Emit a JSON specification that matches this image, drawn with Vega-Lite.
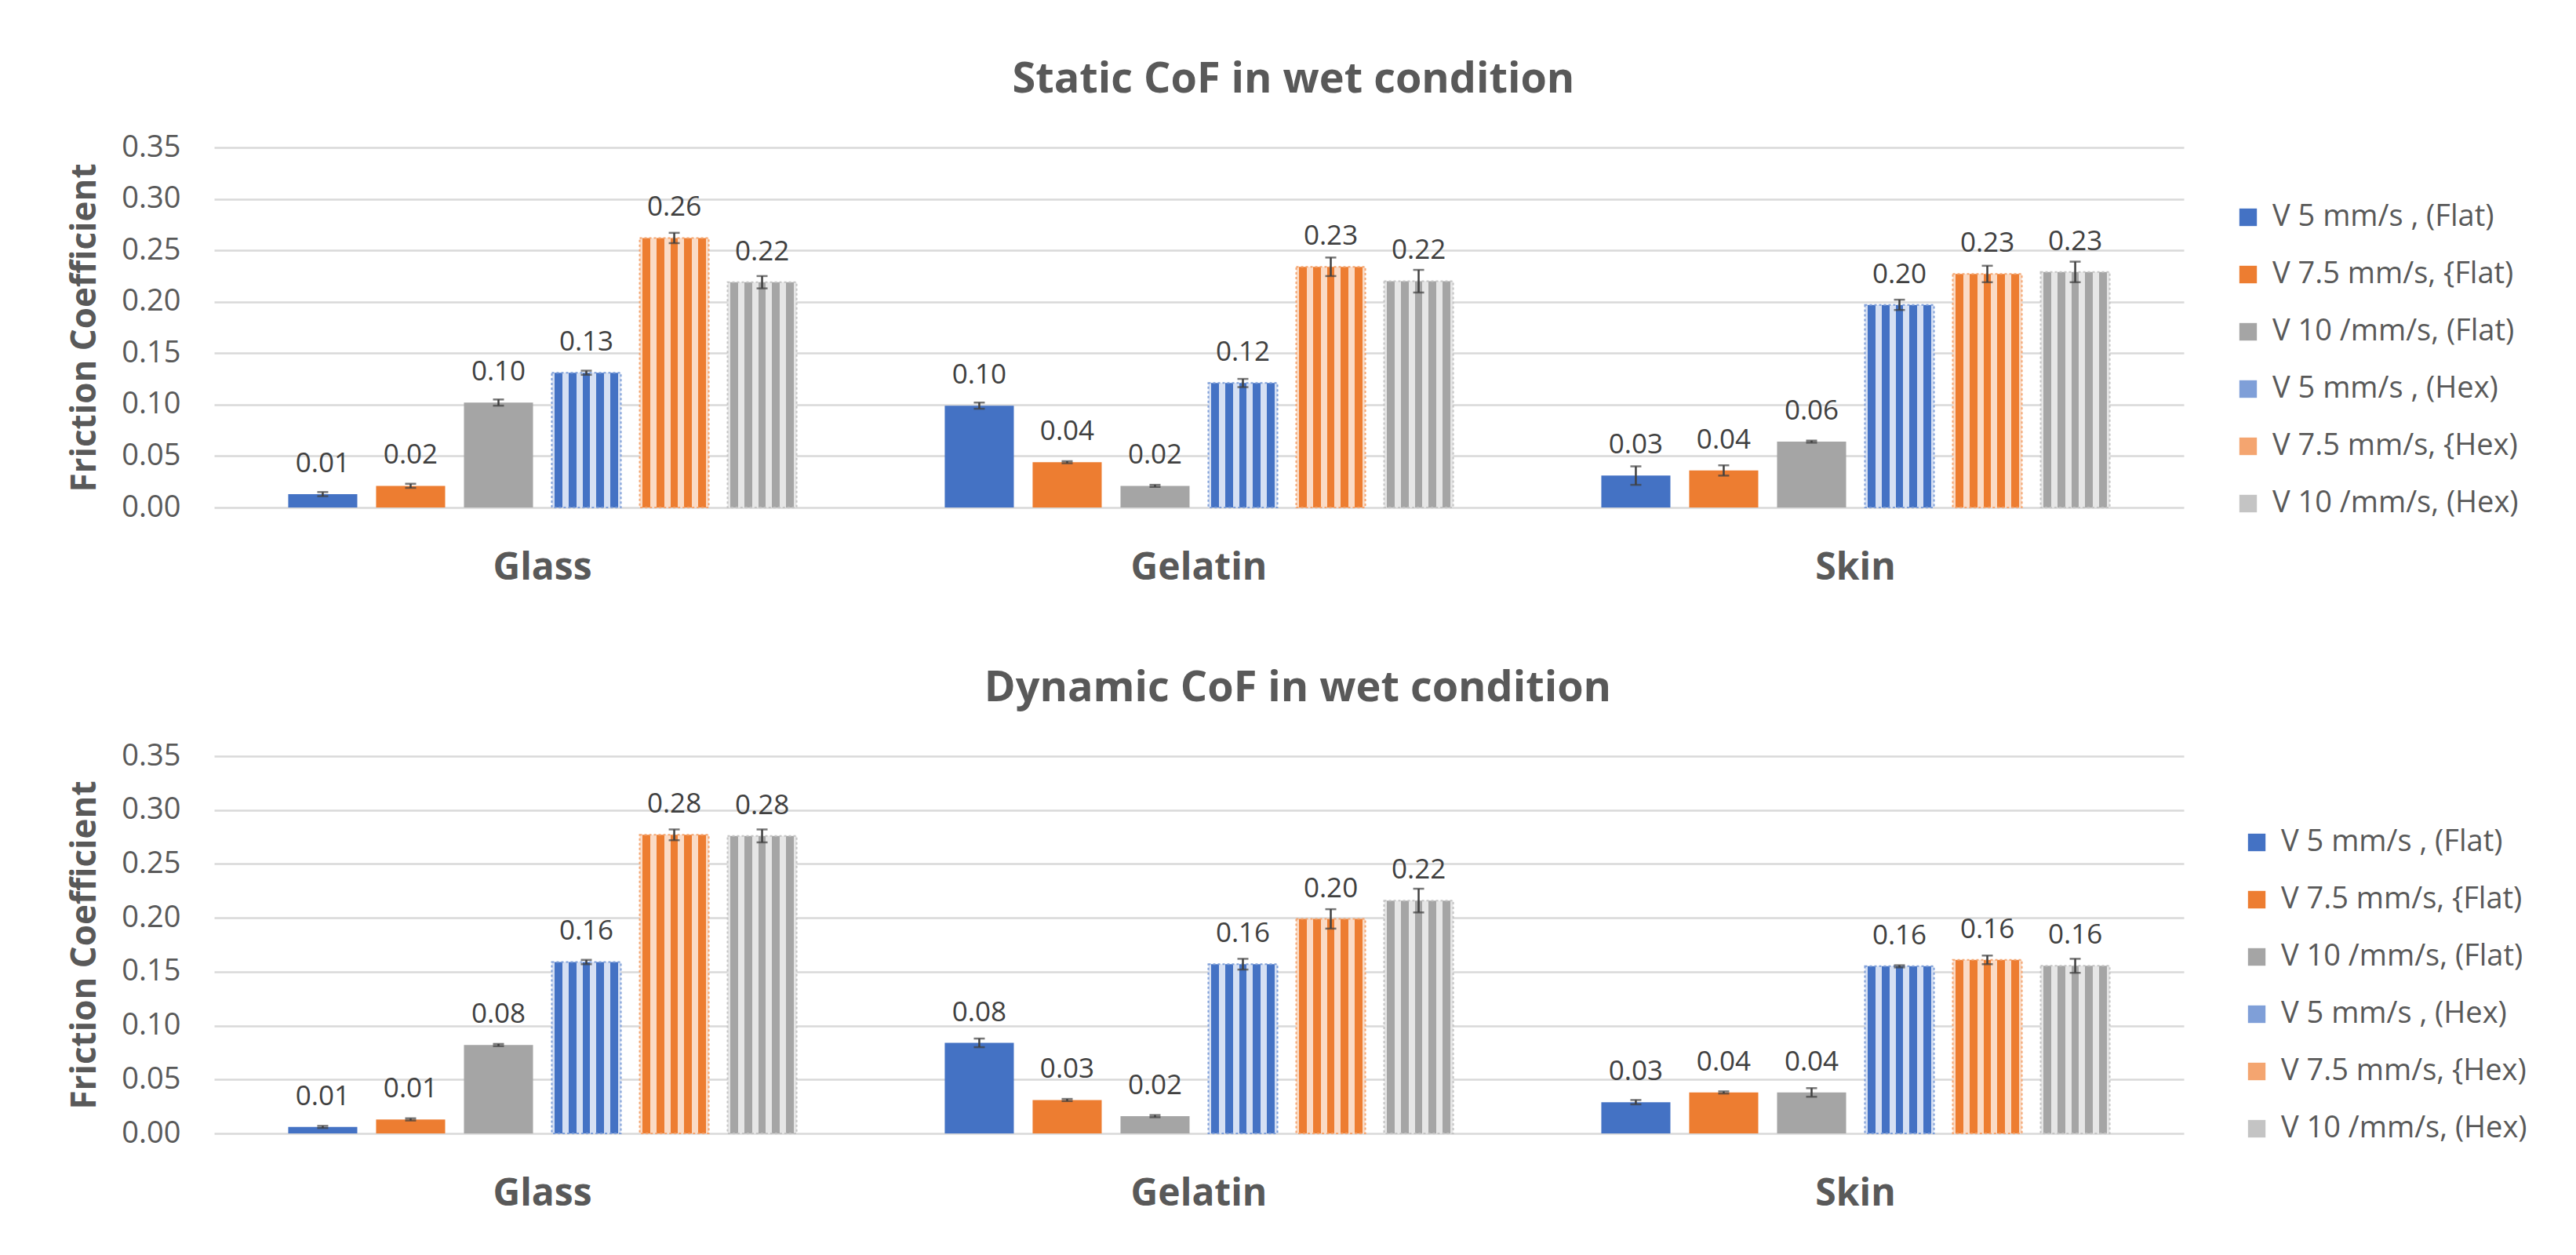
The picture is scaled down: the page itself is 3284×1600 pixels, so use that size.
{
  "$schema": "https://vega.github.io/schema/vega-lite/v6.json",
  "background": "white",
  "padding": {"left": 86, "top": 75, "right": 20, "bottom": 20},
  "config": {
    "font": "Open Sans",
    "view": {"stroke": null}
  },
  "datasets": {
    "cof": [
      {"panel": "Static", "material": "Glass", "series": "V 5 mm/s , (Flat)", "v": 0.013, "lo": 0.011, "hi": 0.015},
      {"panel": "Static", "material": "Glass", "series": "V 7.5 mm/s, {Flat)", "v": 0.021, "lo": 0.019, "hi": 0.023},
      {"panel": "Static", "material": "Glass", "series": "V 10 /mm/s, (Flat)", "v": 0.102, "lo": 0.099, "hi": 0.105},
      {"panel": "Static", "material": "Glass", "series": "V 5 mm/s , (Hex)", "v": 0.131, "lo": 0.129, "hi": 0.133},
      {"panel": "Static", "material": "Glass", "series": "V 7.5 mm/s, {Hex)", "v": 0.262, "lo": 0.257, "hi": 0.267},
      {"panel": "Static", "material": "Glass", "series": "V 10 /mm/s, (Hex)", "v": 0.219, "lo": 0.213, "hi": 0.225},
      {"panel": "Static", "material": "Gelatin", "series": "V 5 mm/s , (Flat)", "v": 0.099, "lo": 0.096, "hi": 0.102},
      {"panel": "Static", "material": "Gelatin", "series": "V 7.5 mm/s, {Flat)", "v": 0.044, "lo": 0.043, "hi": 0.045},
      {"panel": "Static", "material": "Gelatin", "series": "V 10 /mm/s, (Flat)", "v": 0.021, "lo": 0.020, "hi": 0.022},
      {"panel": "Static", "material": "Gelatin", "series": "V 5 mm/s , (Hex)", "v": 0.121, "lo": 0.117, "hi": 0.125},
      {"panel": "Static", "material": "Gelatin", "series": "V 7.5 mm/s, {Hex)", "v": 0.234, "lo": 0.225, "hi": 0.243},
      {"panel": "Static", "material": "Gelatin", "series": "V 10 /mm/s, (Hex)", "v": 0.220, "lo": 0.209, "hi": 0.231},
      {"panel": "Static", "material": "Skin", "series": "V 5 mm/s , (Flat)", "v": 0.031, "lo": 0.022, "hi": 0.040},
      {"panel": "Static", "material": "Skin", "series": "V 7.5 mm/s, {Flat)", "v": 0.036, "lo": 0.031, "hi": 0.041},
      {"panel": "Static", "material": "Skin", "series": "V 10 /mm/s, (Flat)", "v": 0.064, "lo": 0.063, "hi": 0.065},
      {"panel": "Static", "material": "Skin", "series": "V 5 mm/s , (Hex)", "v": 0.197, "lo": 0.192, "hi": 0.202},
      {"panel": "Static", "material": "Skin", "series": "V 7.5 mm/s, {Hex)", "v": 0.227, "lo": 0.219, "hi": 0.235},
      {"panel": "Static", "material": "Skin", "series": "V 10 /mm/s, (Hex)", "v": 0.229, "lo": 0.219, "hi": 0.239},
      {"panel": "Dynamic", "material": "Glass", "series": "V 5 mm/s , (Flat)", "v": 0.006, "lo": 0.005, "hi": 0.007},
      {"panel": "Dynamic", "material": "Glass", "series": "V 7.5 mm/s, {Flat)", "v": 0.013, "lo": 0.012, "hi": 0.014},
      {"panel": "Dynamic", "material": "Glass", "series": "V 10 /mm/s, (Flat)", "v": 0.082, "lo": 0.081, "hi": 0.083},
      {"panel": "Dynamic", "material": "Glass", "series": "V 5 mm/s , (Hex)", "v": 0.159, "lo": 0.157, "hi": 0.161},
      {"panel": "Dynamic", "material": "Glass", "series": "V 7.5 mm/s, {Hex)", "v": 0.277, "lo": 0.272, "hi": 0.282},
      {"panel": "Dynamic", "material": "Glass", "series": "V 10 /mm/s, (Hex)", "v": 0.276, "lo": 0.270, "hi": 0.282},
      {"panel": "Dynamic", "material": "Gelatin", "series": "V 5 mm/s , (Flat)", "v": 0.084, "lo": 0.080, "hi": 0.088},
      {"panel": "Dynamic", "material": "Gelatin", "series": "V 7.5 mm/s, {Flat)", "v": 0.031, "lo": 0.030, "hi": 0.032},
      {"panel": "Dynamic", "material": "Gelatin", "series": "V 10 /mm/s, (Flat)", "v": 0.016, "lo": 0.015, "hi": 0.017},
      {"panel": "Dynamic", "material": "Gelatin", "series": "V 5 mm/s , (Hex)", "v": 0.157, "lo": 0.152, "hi": 0.162},
      {"panel": "Dynamic", "material": "Gelatin", "series": "V 7.5 mm/s, {Hex)", "v": 0.199, "lo": 0.190, "hi": 0.208},
      {"panel": "Dynamic", "material": "Gelatin", "series": "V 10 /mm/s, (Hex)", "v": 0.216, "lo": 0.205, "hi": 0.227},
      {"panel": "Dynamic", "material": "Skin", "series": "V 5 mm/s , (Flat)", "v": 0.029, "lo": 0.027, "hi": 0.031},
      {"panel": "Dynamic", "material": "Skin", "series": "V 7.5 mm/s, {Flat)", "v": 0.038, "lo": 0.037, "hi": 0.039},
      {"panel": "Dynamic", "material": "Skin", "series": "V 10 /mm/s, (Flat)", "v": 0.038, "lo": 0.034, "hi": 0.042},
      {"panel": "Dynamic", "material": "Skin", "series": "V 5 mm/s , (Hex)", "v": 0.1552, "lo": 0.154, "hi": 0.156},
      {"panel": "Dynamic", "material": "Skin", "series": "V 7.5 mm/s, {Hex)", "v": 0.161, "lo": 0.157, "hi": 0.165},
      {"panel": "Dynamic", "material": "Skin", "series": "V 10 /mm/s, (Hex)", "v": 0.1555, "lo": 0.149, "hi": 0.162}
    ]
  },
  "vconcat": [
    {
      "title": {"text": "Static CoF in wet condition", "fontSize": 54, "fontWeight": "bold", "color": "#595959", "anchor": "middle", "frame": "bounds", "offset": 40},
      "width": 2511,
      "height": 459,
      "data": {"name": "cof"},
      "transform": [{"filter": "datum.panel === 'Static'"}],
      "encoding": {
        "x": {
          "field": "material", "type": "nominal", "sort": ["Glass", "Gelatin", "Skin"],
          "scale": {"paddingInner": 0, "paddingOuter": 0},
          "axis": {"title": null, "labelAngle": 0, "labelFontSize": 48, "labelFontWeight": "bold", "labelColor": "#595959", "labelPadding": 53, "domain": false, "ticks": false}
        },
        "xOffset": {
          "field": "series", "type": "nominal",
          "scale": {"domain": ["V 5 mm/s , (Flat)", "V 7.5 mm/s, {Flat)", "V 10 /mm/s, (Flat)", "V 5 mm/s , (Hex)", "V 7.5 mm/s, {Hex)", "V 10 /mm/s, (Hex)"], "paddingInner": 0.214, "paddingOuter": 0.843}
        },
        "y": {
          "field": "v", "type": "quantitative",
          "scale": {"domain": [0, 0.35], "nice": false},
          "axis": {"title": "Friction Coefficient", "titleFontSize": 44, "titleFontWeight": "bold", "titleColor": "#595959", "titlePadding": 24, "labelFontSize": 38, "labelColor": "#595959", "labelPadding": 43, "format": ".2f", "values": [0, 0.05, 0.1, 0.15, 0.2, 0.25, 0.3, 0.35], "domain": false, "ticks": false, "gridColor": "#d9d9d9", "gridWidth": 2.5}
        },
        "color": {
          "field": "series", "type": "nominal",
          "scale": {
            "domain": ["V 5 mm/s , (Flat)", "V 7.5 mm/s, {Flat)", "V 10 /mm/s, (Flat)", "V 5 mm/s , (Hex)", "V 7.5 mm/s, {Hex)", "V 10 /mm/s, (Hex)"],
            "range": ["#4472C4", "#ED7D31", "#A5A5A5", "#7f9fd8", "#f4a570", "#c4c4c4"]
          },
          "legend": {"title": null, "orient": "none", "legendX": 2574, "legendY": 70, "padding": 0, "symbolType": "square", "symbolSize": 500, "symbolStrokeWidth": 0, "labelFontSize": 38, "labelColor": "#595959", "labelOffset": 12, "rowPadding": 35, "labelLimit": 500}
        }
      },
      "layer": [
        {
          "transform": [{"filter": {"field": "series", "oneOf": ["V 5 mm/s , (Flat)", "V 7.5 mm/s, {Flat)", "V 10 /mm/s, (Flat)"]}}],
          "mark": {"type": "bar"}
        },
        {
          "transform": [{"filter": {"field": "series", "equal": "V 5 mm/s , (Hex)"}}],
          "mark": {"type": "bar", "filled": false, "strokeWidth": 2, "strokeDash": [3, 3],
            "fill": {"gradient": "linear", "x1": 0, "y1": 0, "x2": 1, "y2": 0, "stops": [
              {"offset": 0, "color": "#d6e0f3"}, {"offset": 0.045, "color": "#d6e0f3"}, {"offset": 0.045, "color": "#4472C4"}, {"offset": 0.155, "color": "#4472C4"},
              {"offset": 0.155, "color": "#d6e0f3"}, {"offset": 0.245, "color": "#d6e0f3"}, {"offset": 0.245, "color": "#4472C4"}, {"offset": 0.355, "color": "#4472C4"},
              {"offset": 0.355, "color": "#d6e0f3"}, {"offset": 0.445, "color": "#d6e0f3"}, {"offset": 0.445, "color": "#4472C4"}, {"offset": 0.555, "color": "#4472C4"},
              {"offset": 0.555, "color": "#d6e0f3"}, {"offset": 0.645, "color": "#d6e0f3"}, {"offset": 0.645, "color": "#4472C4"}, {"offset": 0.755, "color": "#4472C4"},
              {"offset": 0.755, "color": "#d6e0f3"}, {"offset": 0.845, "color": "#d6e0f3"}, {"offset": 0.845, "color": "#4472C4"}, {"offset": 0.955, "color": "#4472C4"},
              {"offset": 0.955, "color": "#d6e0f3"}, {"offset": 1, "color": "#d6e0f3"}]}}
        },
        {
          "transform": [{"filter": {"field": "series", "equal": "V 7.5 mm/s, {Hex)"}}],
          "mark": {"type": "bar", "filled": false, "strokeWidth": 2, "strokeDash": [3, 3],
            "fill": {"gradient": "linear", "x1": 0, "y1": 0, "x2": 1, "y2": 0, "stops": [
              {"offset": 0, "color": "#fadbc6"}, {"offset": 0.045, "color": "#fadbc6"}, {"offset": 0.045, "color": "#ED7D31"}, {"offset": 0.155, "color": "#ED7D31"},
              {"offset": 0.155, "color": "#fadbc6"}, {"offset": 0.245, "color": "#fadbc6"}, {"offset": 0.245, "color": "#ED7D31"}, {"offset": 0.355, "color": "#ED7D31"},
              {"offset": 0.355, "color": "#fadbc6"}, {"offset": 0.445, "color": "#fadbc6"}, {"offset": 0.445, "color": "#ED7D31"}, {"offset": 0.555, "color": "#ED7D31"},
              {"offset": 0.555, "color": "#fadbc6"}, {"offset": 0.645, "color": "#fadbc6"}, {"offset": 0.645, "color": "#ED7D31"}, {"offset": 0.755, "color": "#ED7D31"},
              {"offset": 0.755, "color": "#fadbc6"}, {"offset": 0.845, "color": "#fadbc6"}, {"offset": 0.845, "color": "#ED7D31"}, {"offset": 0.955, "color": "#ED7D31"},
              {"offset": 0.955, "color": "#fadbc6"}, {"offset": 1, "color": "#fadbc6"}]}}
        },
        {
          "transform": [{"filter": {"field": "series", "equal": "V 10 /mm/s, (Hex)"}}],
          "mark": {"type": "bar", "filled": false, "strokeWidth": 2, "strokeDash": [3, 3],
            "fill": {"gradient": "linear", "x1": 0, "y1": 0, "x2": 1, "y2": 0, "stops": [
              {"offset": 0, "color": "#e6e6e6"}, {"offset": 0.045, "color": "#e6e6e6"}, {"offset": 0.045, "color": "#A5A5A5"}, {"offset": 0.155, "color": "#A5A5A5"},
              {"offset": 0.155, "color": "#e6e6e6"}, {"offset": 0.245, "color": "#e6e6e6"}, {"offset": 0.245, "color": "#A5A5A5"}, {"offset": 0.355, "color": "#A5A5A5"},
              {"offset": 0.355, "color": "#e6e6e6"}, {"offset": 0.445, "color": "#e6e6e6"}, {"offset": 0.445, "color": "#A5A5A5"}, {"offset": 0.555, "color": "#A5A5A5"},
              {"offset": 0.555, "color": "#e6e6e6"}, {"offset": 0.645, "color": "#e6e6e6"}, {"offset": 0.645, "color": "#A5A5A5"}, {"offset": 0.755, "color": "#A5A5A5"},
              {"offset": 0.755, "color": "#e6e6e6"}, {"offset": 0.845, "color": "#e6e6e6"}, {"offset": 0.845, "color": "#A5A5A5"}, {"offset": 0.955, "color": "#A5A5A5"},
              {"offset": 0.955, "color": "#e6e6e6"}, {"offset": 1, "color": "#e6e6e6"}]}}
        },
        {
          "mark": {"type": "rule", "strokeWidth": 2.5},
          "encoding": {"y": {"field": "lo", "type": "quantitative"}, "y2": {"field": "hi"}, "color": {"value": "#404040"}}
        },
        {
          "mark": {"type": "tick", "thickness": 2.5, "size": 14},
          "encoding": {"y": {"field": "lo", "type": "quantitative"}, "color": {"value": "#404040"}}
        },
        {
          "mark": {"type": "tick", "thickness": 2.5, "size": 14},
          "encoding": {"y": {"field": "hi", "type": "quantitative"}, "color": {"value": "#404040"}}
        },
        {
          "mark": {"type": "text", "baseline": "alphabetic", "dy": -28, "fontSize": 35},
          "encoding": {"text": {"field": "v", "type": "quantitative", "format": ".2f"}, "color": {"value": "#404040"}}
        }
      ]
    },
    {
      "title": {"text": "Dynamic CoF in wet condition", "fontSize": 54, "fontWeight": "bold", "color": "#595959", "anchor": "middle", "frame": "bounds", "offset": 40},
      "width": 2511,
      "height": 481,
      "data": {"name": "cof"},
      "transform": [{"filter": "datum.panel === 'Dynamic'"}],
      "encoding": {
        "x": {
          "field": "material", "type": "nominal", "sort": ["Glass", "Gelatin", "Skin"],
          "scale": {"paddingInner": 0, "paddingOuter": 0},
          "axis": {"title": null, "labelAngle": 0, "labelFontSize": 48, "labelFontWeight": "bold", "labelColor": "#595959", "labelPadding": 53, "domain": false, "ticks": false}
        },
        "xOffset": {
          "field": "series", "type": "nominal",
          "scale": {"domain": ["V 5 mm/s , (Flat)", "V 7.5 mm/s, {Flat)", "V 10 /mm/s, (Flat)", "V 5 mm/s , (Hex)", "V 7.5 mm/s, {Hex)", "V 10 /mm/s, (Hex)"], "paddingInner": 0.214, "paddingOuter": 0.843}
        },
        "y": {
          "field": "v", "type": "quantitative",
          "scale": {"domain": [0, 0.35], "nice": false},
          "axis": {"title": "Friction Coefficient", "titleFontSize": 44, "titleFontWeight": "bold", "titleColor": "#595959", "titlePadding": 24, "labelFontSize": 38, "labelColor": "#595959", "labelPadding": 43, "format": ".2f", "values": [0, 0.05, 0.1, 0.15, 0.2, 0.25, 0.3, 0.35], "domain": false, "ticks": false, "gridColor": "#d9d9d9", "gridWidth": 2.5}
        },
        "color": {
          "field": "series", "type": "nominal",
          "scale": {
            "domain": ["V 5 mm/s , (Flat)", "V 7.5 mm/s, {Flat)", "V 10 /mm/s, (Flat)", "V 5 mm/s , (Hex)", "V 7.5 mm/s, {Hex)", "V 10 /mm/s, (Hex)"],
            "range": ["#4472C4", "#ED7D31", "#A5A5A5", "#7f9fd8", "#f4a570", "#c4c4c4"]
          },
          "legend": {"title": null, "orient": "none", "legendX": 2585, "legendY": 91, "padding": 0, "symbolType": "square", "symbolSize": 500, "symbolStrokeWidth": 0, "labelFontSize": 38, "labelColor": "#595959", "labelOffset": 12, "rowPadding": 35, "labelLimit": 500}
        }
      },
      "layer": [
        {
          "transform": [{"filter": {"field": "series", "oneOf": ["V 5 mm/s , (Flat)", "V 7.5 mm/s, {Flat)", "V 10 /mm/s, (Flat)"]}}],
          "mark": {"type": "bar"}
        },
        {
          "transform": [{"filter": {"field": "series", "equal": "V 5 mm/s , (Hex)"}}],
          "mark": {"type": "bar", "filled": false, "strokeWidth": 2, "strokeDash": [3, 3],
            "fill": {"gradient": "linear", "x1": 0, "y1": 0, "x2": 1, "y2": 0, "stops": [
              {"offset": 0, "color": "#d6e0f3"}, {"offset": 0.045, "color": "#d6e0f3"}, {"offset": 0.045, "color": "#4472C4"}, {"offset": 0.155, "color": "#4472C4"},
              {"offset": 0.155, "color": "#d6e0f3"}, {"offset": 0.245, "color": "#d6e0f3"}, {"offset": 0.245, "color": "#4472C4"}, {"offset": 0.355, "color": "#4472C4"},
              {"offset": 0.355, "color": "#d6e0f3"}, {"offset": 0.445, "color": "#d6e0f3"}, {"offset": 0.445, "color": "#4472C4"}, {"offset": 0.555, "color": "#4472C4"},
              {"offset": 0.555, "color": "#d6e0f3"}, {"offset": 0.645, "color": "#d6e0f3"}, {"offset": 0.645, "color": "#4472C4"}, {"offset": 0.755, "color": "#4472C4"},
              {"offset": 0.755, "color": "#d6e0f3"}, {"offset": 0.845, "color": "#d6e0f3"}, {"offset": 0.845, "color": "#4472C4"}, {"offset": 0.955, "color": "#4472C4"},
              {"offset": 0.955, "color": "#d6e0f3"}, {"offset": 1, "color": "#d6e0f3"}]}}
        },
        {
          "transform": [{"filter": {"field": "series", "equal": "V 7.5 mm/s, {Hex)"}}],
          "mark": {"type": "bar", "filled": false, "strokeWidth": 2, "strokeDash": [3, 3],
            "fill": {"gradient": "linear", "x1": 0, "y1": 0, "x2": 1, "y2": 0, "stops": [
              {"offset": 0, "color": "#fadbc6"}, {"offset": 0.045, "color": "#fadbc6"}, {"offset": 0.045, "color": "#ED7D31"}, {"offset": 0.155, "color": "#ED7D31"},
              {"offset": 0.155, "color": "#fadbc6"}, {"offset": 0.245, "color": "#fadbc6"}, {"offset": 0.245, "color": "#ED7D31"}, {"offset": 0.355, "color": "#ED7D31"},
              {"offset": 0.355, "color": "#fadbc6"}, {"offset": 0.445, "color": "#fadbc6"}, {"offset": 0.445, "color": "#ED7D31"}, {"offset": 0.555, "color": "#ED7D31"},
              {"offset": 0.555, "color": "#fadbc6"}, {"offset": 0.645, "color": "#fadbc6"}, {"offset": 0.645, "color": "#ED7D31"}, {"offset": 0.755, "color": "#ED7D31"},
              {"offset": 0.755, "color": "#fadbc6"}, {"offset": 0.845, "color": "#fadbc6"}, {"offset": 0.845, "color": "#ED7D31"}, {"offset": 0.955, "color": "#ED7D31"},
              {"offset": 0.955, "color": "#fadbc6"}, {"offset": 1, "color": "#fadbc6"}]}}
        },
        {
          "transform": [{"filter": {"field": "series", "equal": "V 10 /mm/s, (Hex)"}}],
          "mark": {"type": "bar", "filled": false, "strokeWidth": 2, "strokeDash": [3, 3],
            "fill": {"gradient": "linear", "x1": 0, "y1": 0, "x2": 1, "y2": 0, "stops": [
              {"offset": 0, "color": "#e6e6e6"}, {"offset": 0.045, "color": "#e6e6e6"}, {"offset": 0.045, "color": "#A5A5A5"}, {"offset": 0.155, "color": "#A5A5A5"},
              {"offset": 0.155, "color": "#e6e6e6"}, {"offset": 0.245, "color": "#e6e6e6"}, {"offset": 0.245, "color": "#A5A5A5"}, {"offset": 0.355, "color": "#A5A5A5"},
              {"offset": 0.355, "color": "#e6e6e6"}, {"offset": 0.445, "color": "#e6e6e6"}, {"offset": 0.445, "color": "#A5A5A5"}, {"offset": 0.555, "color": "#A5A5A5"},
              {"offset": 0.555, "color": "#e6e6e6"}, {"offset": 0.645, "color": "#e6e6e6"}, {"offset": 0.645, "color": "#A5A5A5"}, {"offset": 0.755, "color": "#A5A5A5"},
              {"offset": 0.755, "color": "#e6e6e6"}, {"offset": 0.845, "color": "#e6e6e6"}, {"offset": 0.845, "color": "#A5A5A5"}, {"offset": 0.955, "color": "#A5A5A5"},
              {"offset": 0.955, "color": "#e6e6e6"}, {"offset": 1, "color": "#e6e6e6"}]}}
        },
        {
          "mark": {"type": "rule", "strokeWidth": 2.5},
          "encoding": {"y": {"field": "lo", "type": "quantitative"}, "y2": {"field": "hi"}, "color": {"value": "#404040"}}
        },
        {
          "mark": {"type": "tick", "thickness": 2.5, "size": 14},
          "encoding": {"y": {"field": "lo", "type": "quantitative"}, "color": {"value": "#404040"}}
        },
        {
          "mark": {"type": "tick", "thickness": 2.5, "size": 14},
          "encoding": {"y": {"field": "hi", "type": "quantitative"}, "color": {"value": "#404040"}}
        },
        {
          "mark": {"type": "text", "baseline": "alphabetic", "dy": -28, "fontSize": 35},
          "encoding": {"text": {"field": "v", "type": "quantitative", "format": ".2f"}, "color": {"value": "#404040"}}
        }
      ]
    }
  ],
  "spacing": 103,
  "resolve": {
    "scale": {"x": "independent", "y": "independent", "xOffset": "independent", "color": "independent"},
    "legend": {"color": "independent"}
  }
}
